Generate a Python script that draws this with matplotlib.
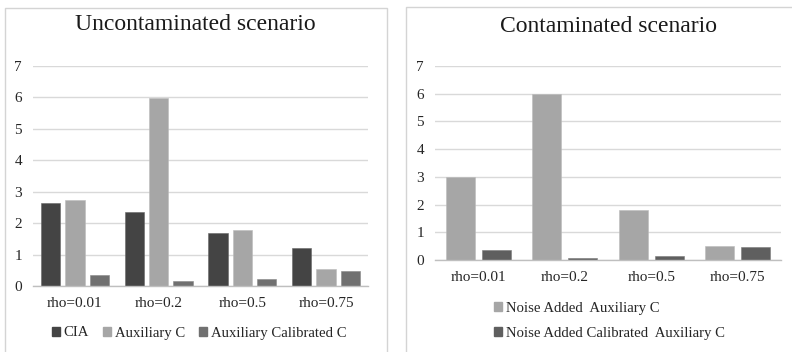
import matplotlib
matplotlib.use("Agg")
import matplotlib.pyplot as plt
import numpy as np
from matplotlib.patches import Rectangle, Patch

plt.rcParams['font.family'] = ['Liberation Serif', 'DejaVu Serif']

categories = ["rho=0.01", "rho=0.2", "rho=0.5", "rho=0.75"]
yticks = [0, 1, 2, 3, 4, 5, 6, 7]

# Uncontaminated scenario
cia = [2.63, 2.34, 1.70, 1.22]
aux_c = [2.73, 5.97, 1.77, 0.54]
aux_cal_c = [0.34, 0.15, 0.21, 0.47]

# Contaminated scenario
noise_aux_c = [2.99, 5.99, 1.80, 0.52]
noise_cal_aux_c = [0.35, 0.08, 0.16, 0.46]

W, H = 792, 352
fig = plt.figure(figsize=(W / 100, H / 100), dpi=100)
fig.patch.set_facecolor('white')

def fx(px):
    return px / W

def fy(py):
    return 1 - py / H

border_col = '#d4d4d4'
fig.patches.append(Rectangle((fx(5), fy(360)), fx(387) - fx(5), fy(8) - fy(360),
                             transform=fig.transFigure, fill=False, edgecolor=border_col, lw=1.0))
fig.patches.append(Rectangle((fx(406), fy(360)), fx(800) - fx(406), fy(7) - fy(360),
                             transform=fig.transFigure, fill=False, edgecolor=border_col, lw=1.0))

grid_col = '#d9d9d9'
lab_fs = 11.0
leg_fs = 10.6

def style(ax):
    ax.set_ylim(0, 7)
    ax.set_xlim(-0.5, 3.5)
    ax.set_yticks(yticks)
    ax.set_xticks(range(len(categories)))
    ax.set_xticklabels(categories, fontsize=lab_fs, color='#262626')
    ax.tick_params(axis='both', length=0, labelsize=lab_fs, colors='#262626')
    ax.tick_params(axis='x', pad=8)
    ax.tick_params(axis='y', pad=8)
    for s in ['top', 'right', 'left']:
        ax.spines[s].set_visible(False)
    ax.spines['bottom'].set_color('#bfbfbf')
    ax.spines['bottom'].set_linewidth(1.0)
    ax.yaxis.grid(True, color=grid_col, lw=1.0)
    ax.set_axisbelow(True)
    ax.set_facecolor('none')

# Left panel
ax1 = fig.add_axes([fx(33), fy(286), fx(368) - fx(33), fy(66) - fy(286)])
x = np.arange(len(categories))
bw = 0.23
sp = 0.29
c1, c2, c3 = '#444444', '#a6a6a6', '#707070'
ax1.bar(x - sp, cia, bw, color=c1, edgecolor='#666666', lw=0.4)
ax1.bar(x, aux_c, bw, color=c2, edgecolor='#bbbbbb', lw=0.4)
ax1.bar(x + sp, aux_cal_c, bw, color=c3, edgecolor='#888888', lw=0.4)
style(ax1)
fig.text(fx(195), fy(24), "Uncontaminated scenario", ha='center', va='center',
         fontsize=17, color='#1a1a1a')

h1 = [Patch(color=c1), Patch(color=c2), Patch(color=c3)]
fig.legend(h1, ["CIA", "Auxiliary C", "Auxiliary Calibrated C"],
           loc='center', bbox_to_anchor=(fx(199), fy(333)), ncol=3, frameon=False,
           fontsize=leg_fs, handlelength=0.55, handleheight=0.55, handletextpad=0.25,
           columnspacing=0.95, borderpad=0, labelcolor='#262626')

# Right panel
ax2 = fig.add_axes([fx(435), fy(260), fx(781) - fx(435), fy(66) - fy(260)])
bw2 = 0.335
sp2 = 0.208
d1, d2 = '#a6a6a6', '#5f5f5f'
ax2.bar(x - sp2, noise_aux_c, bw2, color=d1, edgecolor='#bbbbbb', lw=0.4)
ax2.bar(x + sp2, noise_cal_aux_c, bw2, color=d2, edgecolor='#7a7a7a', lw=0.4)
style(ax2)
fig.text(fx(609), fy(26), "Contaminated scenario", ha='center', va='center',
         fontsize=17, color='#1a1a1a')

h2 = [Patch(color=d1), Patch(color=d2)]
fig.legend(h2, ["Noise Added  Auxiliary C", "Noise Added Calibrated  Auxiliary C"],
           loc='center left', bbox_to_anchor=(fx(487), fy(321)), ncol=1, frameon=False,
           fontsize=leg_fs, handlelength=0.55, handleheight=0.55, handletextpad=0.25,
           labelspacing=0.8, borderpad=0, labelcolor='#262626')

fig.savefig("out.png", dpi=100, facecolor='white')
